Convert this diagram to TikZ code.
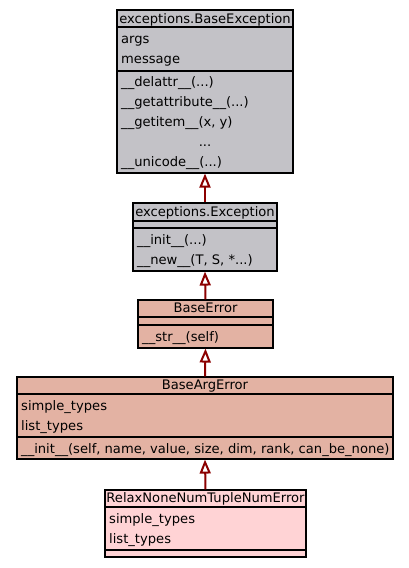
\documentclass[tikz,border=0pt]{standalone}
\usepackage{fontspec}
\setmainfont{DejaVu Sans}
\usepackage{xcolor}
\definecolor{grisclasse}{HTML}{C3C2C7}
\definecolor{saumon}{HTML}{E3B2A3}
\definecolor{rosepale}{HTML}{FFD3D5}
\definecolor{rougefonce}{HTML}{8B0000}
\usetikzlibrary{arrows.meta}

\begin{document}
\begin{tikzpicture}[
  x=1pt,y=-1pt,
  every node/.style={font=\fontsize{13.1}{15}\selectfont,inner sep=0pt},
  cls/.style={draw=black,line width=1.1pt,rectangle},
  sep/.style={draw=black,line width=1.3pt},
  ttl/.style={anchor=base},
  mem/.style={anchor=base west},
  inh/.style={-{Triangle[open,length=14pt,width=11pt]},rougefonce,line width=2pt}
]
\useasboundingbox (0,0) rectangle (409,568);

% exceptions.BaseException
\node[cls,fill=grisclasse,minimum width=176pt,minimum height=163pt] (bexc) at (205,91.5) {};
\draw[sep] (117,27) -- (293,27);
\draw[sep] (117,71) -- (293,71);
\node[ttl] (bexcT) at (205,23) {exceptions.BaseException};
\node[mem] (bexcA1) at (121,43) {args};
\node[mem] (bexcA2) at (121,63) {message};
\node[mem] (bexcM1) at (121,86) {\_\_delattr\_\_(...)};
\node[mem] (bexcM2) at (121,106) {\_\_getattribute\_\_(...)};
\node[mem] (bexcM3) at (121,126) {\_\_getitem\_\_(x, y)};
\node[ttl] (bexcM4) at (205,146) {...};
\node[mem] (bexcM5) at (121,166) {\_\_unicode\_\_(...)};

% exceptions.Exception
\node[cls,fill=grisclasse,minimum width=144pt,minimum height=68pt] (exc) at (205,237) {};
\draw[sep] (133,221) -- (277,221);
\draw[sep] (133,228) -- (277,228);
\node[ttl] (excT) at (205,216) {exceptions.Exception};
\node[mem] (excM1) at (137,244) {\_\_init\_\_(...)};
\node[mem] (excM2) at (137,264) {\_\_new\_\_(T, S, *...)};

% BaseError
\node[cls,fill=saumon,minimum width=135pt,minimum height=48pt] (berr) at (205.5,324) {};
\draw[sep] (138,317) -- (273,317);
\draw[sep] (138,325) -- (273,325);
\node[ttl] (berrT) at (205.5,312) {BaseError};
\node[mem] (berrM1) at (142,341) {\_\_str\_\_(self)};

% BaseArgError
\node[cls,fill=saumon,minimum width=376pt,minimum height=82pt] (barg) at (205,418) {};
\draw[sep] (17,394) -- (393,394);
\draw[sep] (17,437) -- (393,437);
\node[ttl] (bargT) at (205,389) {BaseArgError};
\node[mem] (bargA1) at (21,410) {simple\_types};
\node[mem] (bargA2) at (21,430) {list\_types};
\node[mem] (bargM1) at (21,453) {\_\_init\_\_(self, name, value, size, dim, rank, can\_be\_none)};

% RelaxNoneNumTupleNumError
\node[cls,fill=rosepale,minimum width=201pt,minimum height=67pt] (rnnt) at (205.5,523.5) {};
\draw[sep] (105,507) -- (306,507);
\draw[sep] (105,550) -- (306,550);
\node[ttl] (rnntT) at (205.5,502) {RelaxNoneNumTupleNumError};
\node[mem] (rnntA1) at (109,523) {simple\_types};
\node[mem] (rnntA2) at (109,543) {list\_types};

% heritage
\draw[inh] (exc.north) -- (bexc.south);
\draw[inh] (berr.north) -- (exc.south);
\draw[inh] (barg.north) -- (berr.south);
\draw[inh] (rnnt.north) -- (barg.south);
\end{tikzpicture}
\end{document}
